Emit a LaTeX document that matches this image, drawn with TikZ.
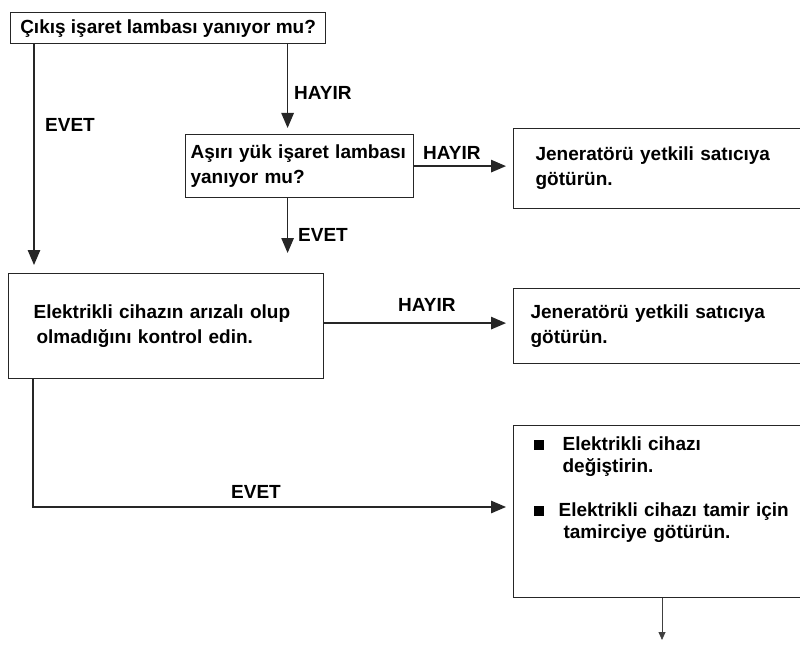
\documentclass[tikz,border=0pt]{standalone}
\usepackage{fontspec}
\setmainfont{Liberation Sans}
\usetikzlibrary{arrows.meta,calc}
\begin{document}
\begin{tikzpicture}[x=1pt,y=-1pt,
  txt/.style={font=\fontsize{19}{25}\selectfont\bfseries},
  box/.style={txt, draw=black!85, line width=1.2pt, anchor=north west, align=left, inner ysep=0pt},
  lbl/.style={txt, inner sep=0pt, anchor=west},
  arr/.style={draw=black!85, line width=1.3pt, -{Triangle[length=15pt,width=12.5pt]}, shorten >=7pt}]
\useasboundingbox (0,0) rectangle (800,647);
\clip (0,0) rectangle (800,647);
% boxes
\node[box, minimum width=315pt, minimum height=31pt, inner xsep=6pt] (b1) at (10,12) {Çıkış işaret lambası yanıyor mu?};
\node[box, minimum width=228pt, minimum height=63pt, inner xsep=5pt, text width=218pt] (b2) at (185,134) {Aşırı yük işaret lambası\\yanıyor mu?};
\node[box, minimum width=300pt, minimum height=80pt, inner xsep=22pt, text width=256pt] (b3) at (513,128) {Jeneratörü yetkili satıcıya\\götürün.};
\node[box, minimum width=315pt, minimum height=105pt, inner xsep=25pt, text width=265pt] (b4) at (8,273) {Elektrikli cihazın arızalı olup\\\hspace*{3pt}olmadığını kontrol edin.};
\node[box, minimum width=300pt, minimum height=75pt, inner xsep=17pt, text width=266pt] (b5) at (513,288) {Jeneratörü yetkili satıcıya\\götürün.};
\node[box, inner xsep=20pt, inner ysep=11pt, text width=265pt] (b6) at (513,425) {%
\fontsize{19}{22}\selectfont
\begin{minipage}[t][150pt][t]{265pt}
\rule{10pt}{10pt}\hspace{19pt}Elektrikli cihazı\par
\hspace*{29pt}değiştirin.\par\vspace{22pt}
\rule{10pt}{10pt}\hspace{15pt}Elektrikli cihazı tamir için\par
\hspace*{30pt}tamirciye götürün.
\end{minipage}};
% connectors
\draw[arr, shorten >=8pt] ([xshift=24pt]b1.south west) -- ([xshift=24pt]b1.south west |- b4.north);
\draw[arr, shorten >=6pt] ([xshift=-12pt]b2.north |- b1.south) -- ([xshift=-12pt]b2.north);
\draw[arr] (b2.east) -- (b2.east -| b3.west);
\draw[arr, shorten >=20pt] ([xshift=-12pt]b2.south) -- ([xshift=-12pt]b2.south |- b4.north);
\draw[arr] ([yshift=3pt]b4.east) -- ([yshift=3pt]b4.east -| b5.west);
\coordinate (c6) at (513,507);
\draw[arr] ([xshift=25pt]b4.south west) |- (c6);
\coordinate (endd) at (662,640);
\draw[draw=black!75, line width=0.8pt, -{Triangle[length=8pt,width=7pt]}] (b6.south -| endd) -- (endd);
% labels
\node[lbl] (l1) at (294,93) {HAYIR};
\node[lbl] (l2) at (45,125) {EVET};
\node[lbl] (l3) at (423,153) {HAYIR};
\node[lbl] (l4) at (298,235) {EVET};
\node[lbl] (l5) at (398,305) {HAYIR};
\node[lbl] (l6) at (231,492) {EVET};
\end{tikzpicture}
\end{document}
